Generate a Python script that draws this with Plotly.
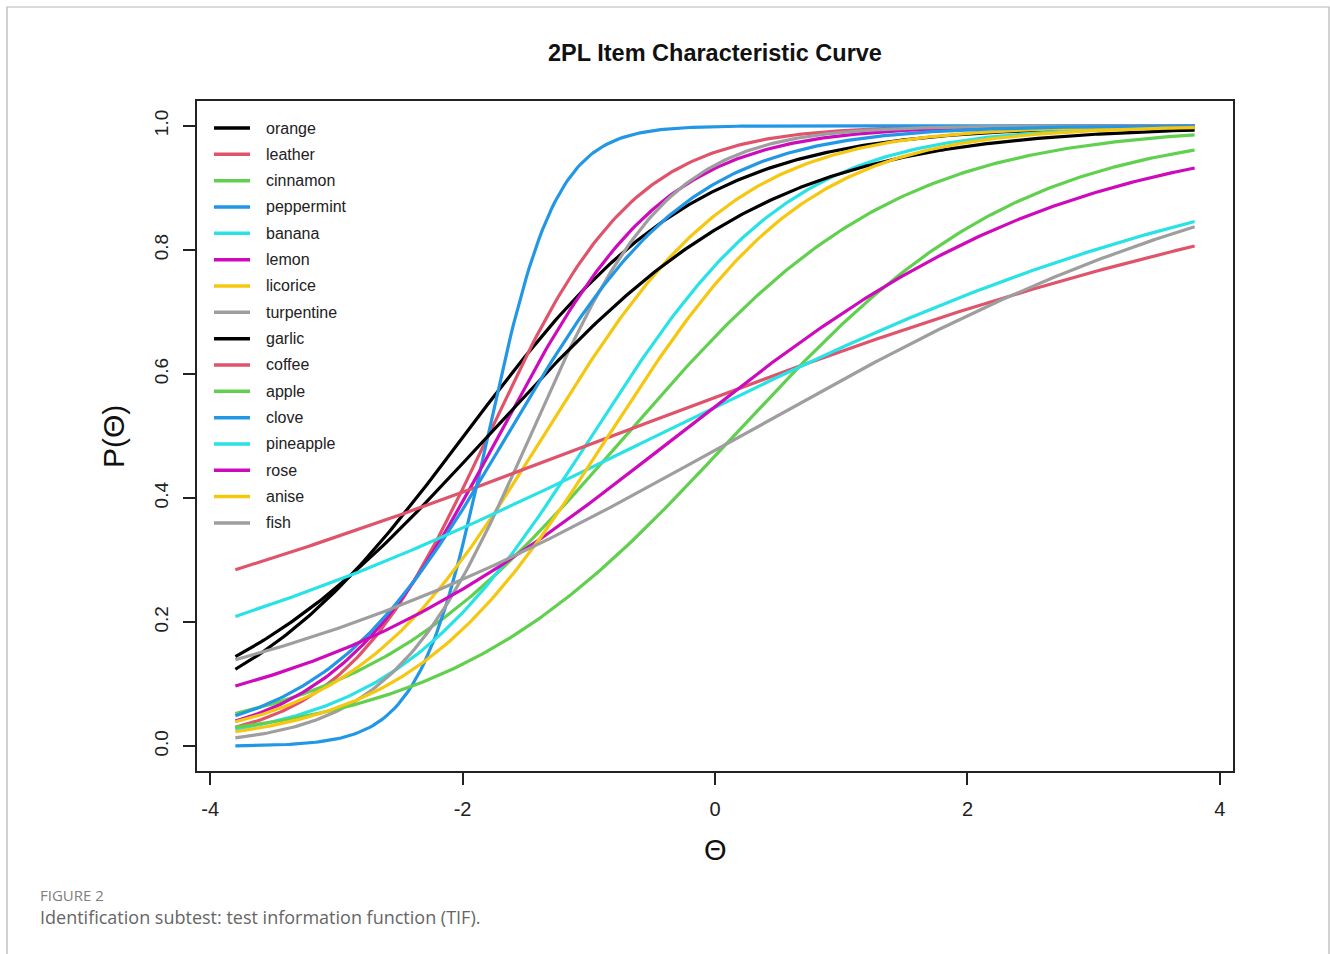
import numpy as np
import plotly.graph_objects as go

# Item names (legend order)
items = ["orange", "leather", "cinnamon", "peppermint", "banana", "lemon", "licorice", "turpentine",
         "garlic", "coffee", "apple", "clove", "pineapple", "rose", "anise", "fish"]
# 2PL discrimination (a) and difficulty (b)
a_params = [1.08, 1.73, 0.935, 3.70, 1.265, 1.52, 1.31, 1.84,
            0.89, 0.309, 0.877, 1.38, 0.399, 0.638, 1.265, 0.455]
b_params = [-1.99, -1.80, -0.71, -1.80, -0.977, -1.716, -1.36, -1.465,
            -1.80, -0.813, 0.147, -1.65, -0.467, -0.303, -0.845, 0.201]
colors = ["#000000", "#DF536B", "#61D04F", "#2297E6", "#28E2E5", "#CD0BBC", "#F5C710", "#9E9E9E"] * 2
theta_min, theta_max = -3.8, 3.8
x_ticks = [-4, -2, 0, 2, 4]
y_ticks = [0.0, 0.2, 0.4, 0.6, 0.8, 1.0]

W, H = 1330, 954
L, R, T, B = 197, 1233, 101, 771
FONT = "Liberation Sans, Arial, Helvetica, sans-serif"
CAP_FONT = "Open Sans, Lato, sans-serif"

def px(xp):
    return (xp - L) / (R - L)

def py(yp):
    return (B - yp) / (B - T)

theta = np.linspace(theta_min, theta_max, 301)
fig = go.Figure()
for name, a, b, c in zip(items, a_params, b_params, colors):
    p = 1.0 / (1.0 + np.exp(-a * (theta - b)))
    fig.add_trace(go.Scatter(x=theta, y=p, mode="lines", name=name,
                             line=dict(color=c, width=3.2), showlegend=False,
                             hoverinfo="name+x+y"))

shapes = []
annotations = []
# manual legend
for i, (name, c) in enumerate(zip(items, colors)):
    yy = 128 + i * 26.33
    shapes.append(dict(type="line", xref="paper", yref="paper",
                       x0=px(214), x1=px(250), y0=py(yy), y1=py(yy),
                       line=dict(color=c, width=3.5)))
    annotations.append(dict(text=name, xref="paper", yref="paper", x=px(264), y=py(yy),
                            xanchor="left", yanchor="middle", showarrow=False,
                            font=dict(family=FONT, size=16, color="#222")))

# title and axis labels
annotations.append(dict(text="<b>2PL Item Characteristic Curve</b>", xref="paper", yref="paper",
                        x=px(715), y=py(53), xanchor="center", yanchor="middle", showarrow=False,
                        font=dict(family=FONT, size=23.5, color="#111")))
annotations.append(dict(text="Θ", xref="paper", yref="paper", x=px(715), y=py(850),
                        xanchor="center", yanchor="middle", showarrow=False,
                        font=dict(family=FONT, size=29, color="#111")))
annotations.append(dict(text="P(Θ)", xref="paper", yref="paper", x=px(113), y=py(437),
                        xanchor="center", yanchor="middle", showarrow=False, textangle=-90,
                        font=dict(family=FONT, size=30, color="#111")))
# caption
annotations.append(dict(text="FIGURE 2", xref="paper", yref="paper", x=px(38), y=py(895),
                        xanchor="left", yanchor="middle", showarrow=False,
                        font=dict(family=CAP_FONT, size=15, color="#808080")))
annotations.append(dict(text="Identification subtest: test information function (TIF).",
                        xref="paper", yref="paper", x=px(38), y=py(917),
                        xanchor="left", yanchor="middle", showarrow=False,
                        font=dict(family=CAP_FONT, size=18, color="#666")))

# page frame
shapes.append(dict(type="rect", xref="paper", yref="paper", x0=px(7), x1=px(1329),
                   y0=py(970), y1=py(7), line=dict(color="#b5b5b5", width=1.2),
                   fillcolor="rgba(0,0,0,0)", layer="below"))

fig.update_layout(
    width=W, height=H,
    margin=dict(l=L, r=W - R, t=T, b=H - B),
    paper_bgcolor="white", plot_bgcolor="white",
    shapes=shapes, annotations=annotations,
    xaxis=dict(range=[-4.104, 4.104], tickvals=x_ticks, ticktext=[str(v) for v in x_ticks],
               showgrid=False, zeroline=False, showline=True, mirror=True,
               linecolor="#222", linewidth=1.5, ticks="outside", ticklen=12,
               tickwidth=1.5, tickcolor="#222", ticklabelstandoff=7,
               tickfont=dict(family=FONT, size=20, color="#222")),
    yaxis=dict(range=[-0.04, 1.04], tickvals=y_ticks, ticktext=[f"{v:.1f}" for v in y_ticks],
               showgrid=False, zeroline=False, showline=True, mirror=True,
               linecolor="#222", linewidth=1.5, ticks="outside", ticklen=12,
               tickwidth=1.5, tickcolor="#222", tickangle=-90, ticklabelstandoff=8,
               tickfont=dict(family=FONT, size=19, color="#222")),
    showlegend=False,
)

fig.write_html("out.html")
